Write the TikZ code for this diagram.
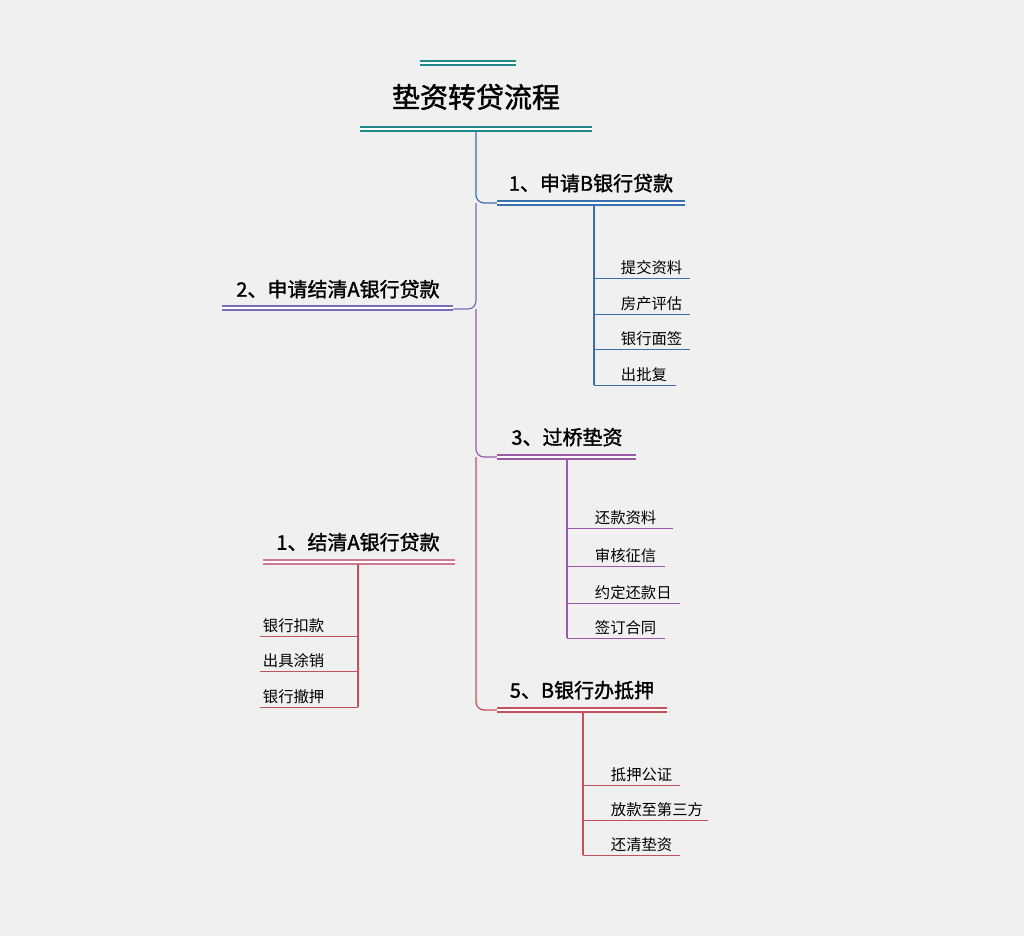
\documentclass[tikz,border=0pt]{standalone}
\usepackage{fontspec}
\setmainfont{Noto Sans CJK SC}
\newfontfamily\cjkbold{Noto Sans CJK SC}[FakeBold=1.5]
\definecolor{teal1}{HTML}{1E8A8A}
\definecolor{blue1}{HTML}{3A6FB0}
\definecolor{purp1}{HTML}{7B6BB8}
\definecolor{viol1}{HTML}{9A5AA8}
\definecolor{red1}{HTML}{C8505A}
\definecolor{pink1}{HTML}{D07890}
\tikzset{
  head/.style={font=\cjkbold\fontsize{15}{15}\selectfont, anchor=south, inner sep=1pt},
  leaf/.style={font=\fontsize{11.5}{12}\selectfont, anchor=south west, inner sep=2pt},
  dbl/.style={double, double distance=2.2pt, line width=0.8pt},
  stem/.style={line width=0.9pt, rounded corners=6pt}
}
\begin{document}
\begin{tikzpicture}[x=0.75pt,y=-0.75pt]
\fill[black!6] (0,0) rectangle (1024,936);
\useasboundingbox (0,0) rectangle (1024,936);
% title
\node[font=\cjkbold\fontsize{21}{21}\selectfont] (title) at (476,97) {垫资转贷流程};
\draw[dbl,teal1] (420,63) -- (516,63);
\draw[dbl,teal1] (360,129) -- (592,129);
% trunk
\coordinate (top) at (476,131);
\draw[stem,blue1] (top) -- (476,203) -- (497,203);
\draw[stem,purp1] (476,203) -- (476,309) -- (453,309);
\draw[stem,viol1] (476,309) -- (476,457) -- (497,457);
\draw[stem,red1] (476,457) -- (476,710) -- (497,710);
% branch 1
\node[head] (b1) at (591,194) {1、申请B银行贷款};
\draw[dbl,blue1] (497,203) -- (685,203);
\draw[blue1,thick] (594,205) -- (594,385);
\foreach \t/\y/\e in {提交资料/278/690, 房产评估/314/690, 银行面签/349/690, 出批复/385/676}{
  \node[leaf] (n\y) at (618,\y) {\t};
  \draw[blue1] (594,\y) -- (\e,\y);
}
% branch 2
\node[head] (b2) at (338,300) {2、申请结清A银行贷款};
\draw[dbl,purp1] (222,308) -- (453,308);
% branch 3
\node[head] (b3) at (567,448) {3、过桥垫资};
\draw[dbl,viol1] (497,457) -- (636,457);
\draw[viol1,thick] (567,459) -- (567,638);
\foreach \t/\y/\e in {还款资料/528/673, 审核征信/566/665, 约定还款日/603/680, 签订合同/638/665}{
  \node[leaf] (m\y) at (592,\y) {\t};
  \draw[viol1] (567,\y) -- (\e,\y);
}
% A bank
\node[head] (a1) at (358,553) {1、结清A银行贷款};
\draw[dbl,pink1] (263,562) -- (455,562);
\draw[red1,thick] (358,564) -- (358,707);
\foreach \t/\y in {银行扣款/636, 出具涂销/671, 银行撤押/707}{
  \node[leaf] (k\y) at (260,\y) {\t};
  \draw[red1] (260,\y) -- (358,\y);
}
% branch 5
\node[head] (b5) at (582,701) {5、B银行办抵押};
\draw[dbl,red1] (497,710) -- (667,710);
\draw[red1,thick] (583,712) -- (583,855);
\foreach \t/\y/\e in {抵押公证/785/680, 放款至第三方/820/708, 还清垫资/855/680}{
  \node[leaf] (p\y) at (608,\y) {\t};
  \draw[red1] (583,\y) -- (\e,\y);
}
\end{tikzpicture}
\end{document}
